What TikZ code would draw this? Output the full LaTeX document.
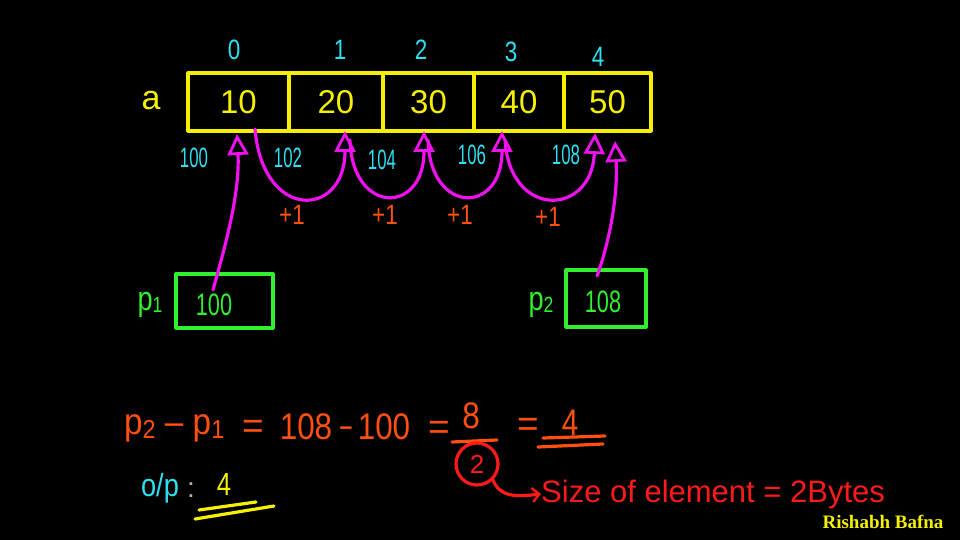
\documentclass[tikz,border=0pt]{standalone}
\usepackage{fontspec}
\setmainfont{Liberation Sans}
\newfontfamily\signfont{Liberation Serif}
\usetikzlibrary{arrows.meta,calc}
\definecolor{hy}{HTML}{F5F000}
\definecolor{hc}{HTML}{30E0F0}
\definecolor{hm}{HTML}{F010F0}
\definecolor{hg}{HTML}{30F030}
\definecolor{ho}{HTML}{FF5010}
\definecolor{hr}{HTML}{FF1A1A}
\newcommand{\nar}[2]{\scalebox{#1}[1]{#2}}
\tikzset{
  ink/.style={line width=3.2pt, line cap=round, line join=round},
  cell/.style={ink, draw=hy, text=hy, minimum height=58pt, inner sep=0pt, font=\fontsize{33}{33}\selectfont},
  idx/.style={text=hc, inner sep=0pt, font=\fontsize{28}{28}\selectfont},
  addr/.style={text=hc, inner sep=0pt, font=\fontsize{28}{28}\selectfont},
  plus/.style={text=ho, inner sep=0pt, font=\fontsize{28}{28}\selectfont},
  hop/.style={ink, draw=hm, -{Triangle[open, length=21pt, width=21pt, line width=2.8pt]}},
  gbox/.style={ink, draw=hg},
  gval/.style={text=hg, inner sep=0pt, font=\fontsize{31}{31}\selectfont},
  glab/.style={text=hg, inner sep=0pt, font=\fontsize{34}{34}\selectfont},
  eq/.style={text=ho, inner sep=0pt, font=\fontsize{37}{37}\selectfont},
  sz/.style={text=hr, inner sep=0pt, font=\fontsize{31}{31}\selectfont},
}
\begin{document}
\begin{tikzpicture}[x=1pt,y=-1pt]
\fill[black] (0,0) rectangle (960,540);
\useasboundingbox (0,0) rectangle (960,540);

% array cells
\node[cell, minimum width=101pt] (c0) at (238.5,102) {10};
\node[cell, minimum width=94pt]  (c1) at (336,102) {20};
\node[cell, minimum width=91pt]  (c2) at (428.5,102) {30};
\node[cell, minimum width=90pt]  (c3) at (519,102) {40};
\node[cell, minimum width=87pt]  (c4) at (607.5,102) {50};
\node[text=hy, inner sep=0pt, font=\fontsize{34}{34}\selectfont] (aname) at (151,101) {a};

% indices
\node[idx] (i0) at (234,50) {\nar{0.8}{0}};
\node[idx] (i1) at (340,50) {\nar{0.8}{1}};
\node[idx] (i2) at (421,50) {\nar{0.8}{2}};
\node[idx] (i3) at (511,52) {\nar{0.8}{3}};
\node[idx] (i4) at (598,57) {\nar{0.8}{4}};

% addresses
\node[addr] (d0) at (194,158) {\nar{0.6}{100}};
\node[addr] (d1) at (288,158) {\nar{0.6}{102}};
\node[addr] (d2) at (382,160) {\nar{0.6}{104}};
\node[addr] (d3) at (472,155) {\nar{0.6}{106}};
\node[addr] (d4) at (566,155) {\nar{0.6}{108}};

% +1 labels
\node[plus] (q1) at (292,215) {\nar{0.8}{+1}};
\node[plus] (q2) at (385,215) {\nar{0.8}{+1}};
\node[plus] (q3) at (460,215) {\nar{0.8}{+1}};
\node[plus] (q4) at (548,217) {\nar{0.8}{+1}};

% hop arcs
\coordinate (s1) at (255,129);
\coordinate (t1) at (345,131);
\coordinate (s2) at (350,140);
\coordinate (t2) at (424,131);
\coordinate (s3) at (428,140);
\coordinate (t3) at (502,131);
\coordinate (s4) at (505,140);
\coordinate (t4) at (595,133);
\draw[hop] (s1) .. controls (263,222) and (345,218) .. (t1);
\draw[hop] (s2) .. controls (352,215) and (424,215) .. (t2);
\draw[hop] (s3) .. controls (430,215) and (502,215) .. (t3);
\draw[hop] (s4) .. controls (510,220) and (592,216) .. (t4);

% pointer boxes
\node[gbox, minimum width=97pt, minimum height=54pt] (p1) at (224.5,301) {};
\node[gval] (v1) at (214,305) {\nar{0.7}{100}};
\node[glab] (p1l) at (150,305) {\nar{0.8}{p\raisebox{-2pt}{\fontsize{22}{22}\selectfont 1}}};
\node[gbox, minimum width=80pt, minimum height=57pt] (p2) at (606,298.5) {};
\node[gval] (v2) at (603,302) {\nar{0.7}{108}};
\node[glab] (p2l) at (541,305) {\nar{0.8}{p\raisebox{-2pt}{\fontsize{22}{22}\selectfont 2}}};

\coordinate (u1) at (213,290);
\coordinate (w1) at (237,134);
\coordinate (u2) at (597,276);
\coordinate (w2) at (615,141);
\draw[hop] (u1) .. controls (224,250) and (240,195) .. (w1);
\draw[hop] (u2) .. controls (610,240) and (618,195) .. (w2);

% equation
\node[eq, anchor=west] (e1) at (124,428) {\nar{0.9}{p\raisebox{-4pt}{\fontsize{26}{26}\selectfont 2} -- p\raisebox{-4pt}{\fontsize{26}{26}\selectfont 1}}};
\node[eq] (e1b) at (253,429) {=};
\node[eq] (e1c) at (306,427) {\nar{0.85}{108}};
\node[eq] (e1d) at (346,432) {\nar{0.55}{--}};
\node[eq] (e1e) at (384,427) {\nar{0.85}{100}};
\node[eq] (e2) at (439,430) {=};
\node[eq] (e3) at (471,416) {\nar{0.85}{8}};
\node[eq] (e4) at (528,427) {=};
\node[eq] (e5) at (570,423) {\nar{0.8}{4}};
\draw[ink, draw=ho] (452,442) -- (497,440);
\draw[ink, draw=ho] (543,438) -- (605,436);
\draw[ink, draw=ho] (538,447) -- (603,444);
\node[ink, draw=hr, circle, minimum size=42pt, inner sep=0pt, text=hr, font=\fontsize{26}{26}\selectfont] (two) at (477,464) {2};

\node[sz, anchor=west] (size) at (541,494) {Size of element = 2Bytes};
\draw[ink, draw=hr, -{Straight Barb[length=7pt, width=14pt, line width=2.4pt]}] (two.south east) .. controls (500,497) and (515,497) .. (size.west);

% output
\node[text=hc, inner sep=0pt, font=\fontsize{32}{32}\selectfont] (op) at (160,488) {\nar{0.85}{o/p}};
\node[text=gray!60!white, inner sep=0pt, font=\fontsize{28}{28}\selectfont] (colon) at (191,490) {:};
\node[text=hy, inner sep=0pt, font=\fontsize{32}{32}\selectfont] (ans) at (224,484) {\nar{0.8}{4}};
\draw[ink, draw=hy] (199,510) -- (256,502);
\draw[ink, draw=hy] (195,519) -- (274,506);

\node[text=hy, inner sep=0pt, font=\signfont\bfseries\fontsize{19}{19}\selectfont] (sig) at (883,522) {Rishabh Bafna};
\end{tikzpicture}
\end{document}
